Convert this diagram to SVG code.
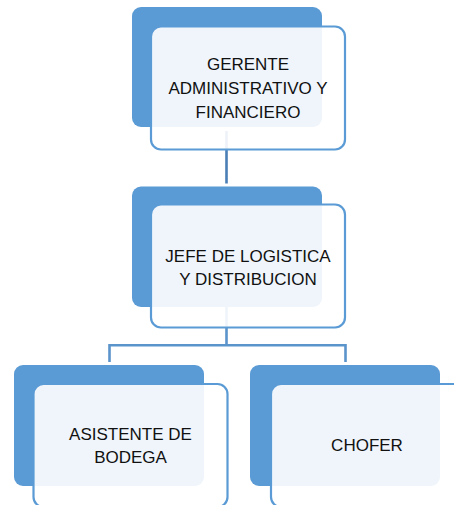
<svg xmlns="http://www.w3.org/2000/svg" width="454" height="505" viewBox="0 0 454 505">
  <style>
    .back { fill: #5B9BD5; }
    .front { fill: #FFFFFF; fill-opacity: 0.9; stroke: #5B9BD5; stroke-width: 2.2; }
    .lbl { font-family: "Liberation Sans", Arial, sans-serif; font-size: 17px; fill: #111111; text-anchor: middle; }
    .conn { fill: none; stroke-width: 2.6; }
  </style>
  <rect width="454" height="505" fill="#FFFFFF"/>
  <g id="connectors">
    <path class="conn" stroke="#4A7EB6" d="M226.5,131 V183.5"/>
    <path class="conn" stroke="#5B93CB" d="M226.5,307 V345.3 M109.5,362 V345.3 H345.5 V362"/>
  </g>
  <g id="node-gerente">
    <rect class="back" x="132" y="7" width="190" height="120" rx="9"/>
    <rect class="front" x="151" y="26.5" width="194" height="123" rx="10"/>
    <text class="lbl" x="248" y="70">GERENTE</text>
    <text class="lbl" x="248" y="94">ADMINISTRATIVO Y</text>
    <text class="lbl" x="248" y="118">FINANCIERO</text>
  </g>
  <g id="node-jefe">
    <rect class="back" x="132" y="186.5" width="190" height="120.5" rx="9"/>
    <rect class="front" x="151" y="204.5" width="194" height="123" rx="10"/>
    <text class="lbl" x="248" y="262">JEFE DE LOGISTICA</text>
    <text class="lbl" x="248" y="285">Y DISTRIBUCION</text>
  </g>
  <g id="node-asistente">
    <rect class="back" x="14" y="365" width="190" height="121" rx="9"/>
    <rect class="front" x="33.5" y="384" width="194" height="123" rx="10"/>
    <text class="lbl" x="130.5" y="440">ASISTENTE DE</text>
    <text class="lbl" x="130.5" y="463">BODEGA</text>
  </g>
  <g id="node-chofer">
    <rect class="back" x="250" y="365" width="190" height="121" rx="9"/>
    <rect class="front" x="271" y="384" width="194" height="123" rx="10"/>
    <text class="lbl" x="367" y="451">CHOFER</text>
  </g>
</svg>
